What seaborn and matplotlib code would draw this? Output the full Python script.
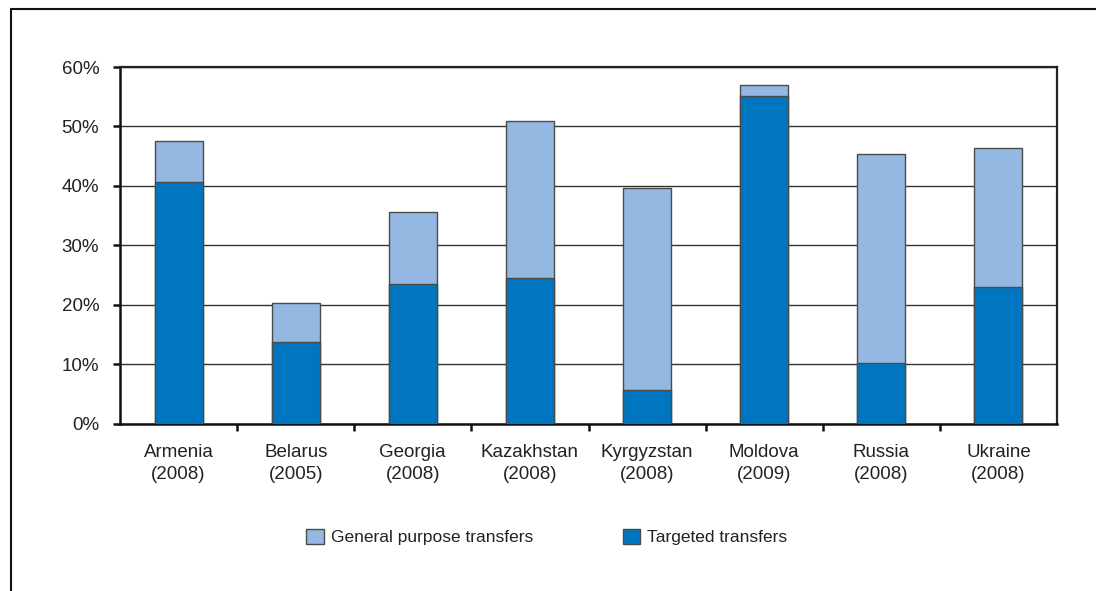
import matplotlib
matplotlib.use("Agg")
import matplotlib.pyplot as plt
import seaborn as sns
import pandas as pd
from matplotlib.lines import Line2D
from matplotlib.patches import Patch
from matplotlib.ticker import FuncFormatter, MultipleLocator, FixedLocator

sns.set_theme(style="white")
plt.rcParams['font.family'] = ['Liberation Sans', 'DejaVu Sans']

countries = ["Armenia\n(2008)", "Belarus\n(2005)", "Georgia\n(2008)", "Kazakhstan\n(2008)",
             "Kyrgyzstan\n(2008)", "Moldova\n(2009)", "Russia\n(2008)", "Ukraine\n(2008)"]
targeted = [40.6, 13.7, 23.4, 24.5, 5.6, 55.1, 10.1, 23.0]
total = [47.6, 20.2, 35.6, 50.9, 39.6, 57.0, 45.4, 46.4]
series_names = ["General purpose transfers", "Targeted transfers"]

df = pd.DataFrame({"country": countries, "targeted": targeted, "total": total})

c_general = "#95b8e2"
c_target = "#0076c0"
edge = "#4a4a4a"

fig = plt.figure(figsize=(10.96, 5.91), dpi=100)
ax = fig.add_axes([120/1096, 1-423.5/591, (1057-120)/1096, (423.5-67)/591])

ax.yaxis.grid(True, color="#333333", linewidth=1.0, zorder=0)
ax.set_axisbelow(True)

sns.barplot(data=df, x="country", y="total", color=c_general, width=0.41,
            edgecolor=edge, linewidth=1.0, saturation=1, ax=ax, zorder=2)
sns.barplot(data=df, x="country", y="targeted", color=c_target, width=0.41,
            edgecolor=edge, linewidth=1.0, saturation=1, ax=ax, zorder=3)

ax.set_ylim(0, 60)
ax.set_xlim(-0.5, len(countries) - 0.5)
ax.yaxis.set_major_locator(MultipleLocator(10))
ax.yaxis.set_major_formatter(FuncFormatter(lambda v, p: f"{int(v)}%"))
ax.set_xlabel("")
ax.set_ylabel("")

for s in ["left", "bottom"]:
    ax.spines[s].set_color("#111111")
    ax.spines[s].set_linewidth(1.8)
for s in ["top", "right"]:
    ax.spines[s].set_color("#222222")
    ax.spines[s].set_linewidth(1.6)

ax.tick_params(axis="y", which="major", length=5, width=1.8, color="#111111",
               labelsize=13.5, labelcolor="#222222", left=True, direction="out", pad=10)
ax.tick_params(axis="x", which="major", length=0, labelsize=13.5, labelcolor="#222222", pad=15)
for lbl in ax.get_xticklabels():
    lbl.set_linespacing(1.35)
ax.xaxis.set_minor_locator(FixedLocator([i + 0.5 for i in range(len(countries) - 1)]))
ax.tick_params(axis="x", which="minor", length=5, width=1.8, color="#111111", bottom=True, direction="out")

handles = [Patch(facecolor=c_general, edgecolor=edge, label=series_names[0]),
           Patch(facecolor=c_target, edgecolor=edge, label=series_names[1])]
fig.legend(handles=handles, loc="center", bbox_to_anchor=(0.499, 1-537/591), ncol=2,
           frameon=False, fontsize=12.5, handlelength=1.0, handleheight=1.0,
           handletextpad=0.4, columnspacing=5.2, labelcolor="#222222")

fig.add_artist(Line2D([11/1096, 11/1096], [0, 1-9/591], transform=fig.transFigure,
                      color="#111111", linewidth=1.5))
fig.add_artist(Line2D([11/1096, 1], [1-9/591, 1-9/591], transform=fig.transFigure,
                      color="#111111", linewidth=1.5))

fig.savefig("out.png", dpi=100, facecolor="white")
